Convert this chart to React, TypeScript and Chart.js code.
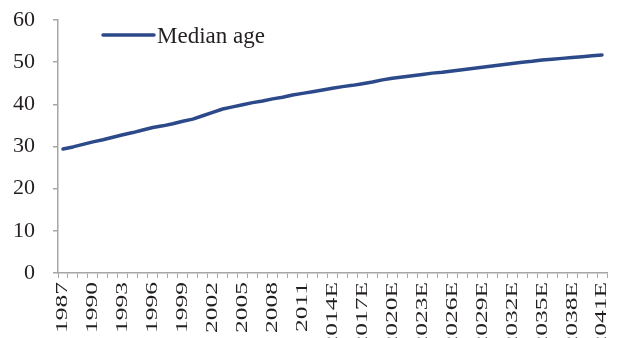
import { useEffect, useRef } from 'react';
import { Chart, registerables } from 'chart.js';

Chart.register(...registerables);

// Years on the category axis (E = estimate)
const years = [
  '1987', '1988', '1989', '1990', '1991', '1992', '1993', '1994', '1995', '1996',
  '1997', '1998', '1999', '2000', '2001', '2002', '2003', '2004', '2005', '2006',
  '2007', '2008', '2009', '2010', '2011', '2012', '2013', '2014E', '2015E', '2016E',
  '2017E', '2018E', '2019E', '2020E', '2021E', '2022E', '2023E', '2024E', '2025E', '2026E',
  '2027E', '2028E', '2029E', '2030E', '2031E', '2032E', '2033E', '2034E', '2035E', '2036E',
  '2037E', '2038E', '2039E', '2040E', '2041E',
];

// Median age in years
const medianAge = [
  29.4, 29.9, 30.5, 31.1, 31.6, 32.2, 32.8, 33.3, 33.9, 34.5,
  34.9, 35.4, 36.0, 36.5, 37.3, 38.1, 38.9, 39.4, 39.9, 40.4,
  40.8, 41.3, 41.7, 42.2, 42.6, 43.0, 43.4, 43.8, 44.2, 44.5,
  44.9, 45.3, 45.8, 46.2, 46.5, 46.8, 47.1, 47.4, 47.6, 47.9,
  48.2, 48.5, 48.8, 49.1, 49.4, 49.7, 50.0, 50.2, 50.5, 50.7,
  50.9, 51.1, 51.3, 51.5, 51.7,
];

const seriesLabel = 'Median age';
const yMin = 0;
const yMax = 60;
const yStep = 10;
const labelEvery = 3;

const LINE_COLOR = '#2c4a8a';
const AXIS_COLOR = '#a6a6a6';
const TEXT_COLOR = '#231f20';
const FONT_FAMILY = "'Liberation Serif', 'Times New Roman', serif";
const X_LABEL_STRETCH = 1.5;

// Year labels are drawn rotated and stretched along their reading direction.
const stretchedXLabels = {
  id: 'stretchedXLabels',
  beforeDraw(chart: any) {
    const scale: any = chart.scales.x;
    if (!scale || scale.__stretched) return;
    scale.__stretched = true;
    scale.drawLabels = function (chartArea: any) {
      const ctx: CanvasRenderingContext2D = this.ctx;
      const items = this.getLabelItems(chartArea);
      for (const item of items) {
        if (!item.label) continue;
        const o = item.options;
        ctx.save();
        ctx.translate(o.translation[0], o.translation[1]);
        ctx.rotate(o.rotation);
        ctx.scale(X_LABEL_STRETCH, 1);
        ctx.font = item.font.string;
        ctx.fillStyle = o.color;
        ctx.textAlign = o.textAlign;
        ctx.textBaseline = o.textBaseline;
        ctx.fillText(String(item.label), 0, item.textOffset);
        ctx.restore();
      }
    };
  },
};

// Legend: a line sample followed by the series name, inside the plot area.
const inlineLegend = {
  id: 'inlineLegend',
  afterDraw(chart: any) {
    const ds = chart.data.datasets[0];
    const ctx: CanvasRenderingContext2D = chart.ctx;
    const x0 = chart.chartArea.left + 45;
    const y0 = chart.chartArea.top + 15;
    ctx.save();
    ctx.strokeStyle = ds.borderColor;
    ctx.lineWidth = ds.borderWidth;
    ctx.lineCap = 'round';
    ctx.beginPath();
    ctx.moveTo(x0, y0);
    ctx.lineTo(x0 + 51, y0);
    ctx.stroke();
    ctx.fillStyle = TEXT_COLOR;
    ctx.font = `23px ${FONT_FAMILY}`;
    ctx.textAlign = 'left';
    ctx.textBaseline = 'alphabetic';
    ctx.fillText(ds.label, x0 + 54, y0 + 8);
    ctx.restore();
  },
};

export default function App() {
  const canvasRef = useRef<HTMLCanvasElement | null>(null);

  useEffect(() => {
    const canvas = canvasRef.current;
    if (!canvas) return;
    const chart = new Chart(canvas, {
      type: 'line',
      data: {
        labels: years,
        datasets: [
          {
            label: seriesLabel,
            data: medianAge,
            borderColor: LINE_COLOR,
            backgroundColor: LINE_COLOR,
            borderWidth: 3.5,
            borderCapStyle: 'round',
            borderJoinStyle: 'round',
            pointRadius: 0,
            pointHoverRadius: 0,
            tension: 0,
            fill: false,
          },
        ],
      },
      options: {
        responsive: false,
        animation: false,
        events: [],
        layout: { padding: { top: 20, right: 13, left: 0, bottom: 0 } },
        plugins: {
          legend: { display: false },
          tooltip: { enabled: false },
        },
        scales: {
          x: {
            type: 'category',
            offset: true,
            grid: {
              display: true,
              offset: true,
              drawOnChartArea: false,
              drawTicks: true,
              tickLength: 5,
              color: AXIS_COLOR,
              lineWidth: 1,
            },
            border: { display: true, color: AXIS_COLOR, width: 1.5 },
            ticks: {
              autoSkip: false,
              maxRotation: 90,
              minRotation: 90,
              padding: 4,
              color: TEXT_COLOR,
              font: { family: FONT_FAMILY, size: 17 },
              callback: function (this: any, value: any, index: number) {
                return index % labelEvery === 0 ? this.getLabelForValue(value) : '';
              },
            },
            afterFit(scale: any) {
              scale.height = 65;
              scale.paddingLeft = 0;
              scale.paddingRight = 0;
            },
          },
          y: {
            min: yMin,
            max: yMax,
            grid: {
              display: true,
              drawOnChartArea: false,
              drawTicks: true,
              tickLength: 5,
              color: AXIS_COLOR,
              lineWidth: 1.5,
            },
            border: { display: true, color: AXIS_COLOR, width: 1.5 },
            ticks: {
              stepSize: yStep,
              padding: 18,
              color: TEXT_COLOR,
              font: { family: FONT_FAMILY, size: 22 },
            },
            afterFit(scale: any) {
              scale.width = 58;
              scale.paddingTop = 0;
              scale.paddingBottom = 0;
            },
          },
        },
      },
      plugins: [stretchedXLabels, inlineLegend],
    } as any);
    return () => chart.destroy();
  }, []);

  return (
    <div style={{ position: 'fixed', left: 0, top: 0, width: 620, height: 338, background: '#fff' }}>
      <canvas ref={canvasRef} width={620} height={338} style={{ display: 'block' }} />
    </div>
  );
}
